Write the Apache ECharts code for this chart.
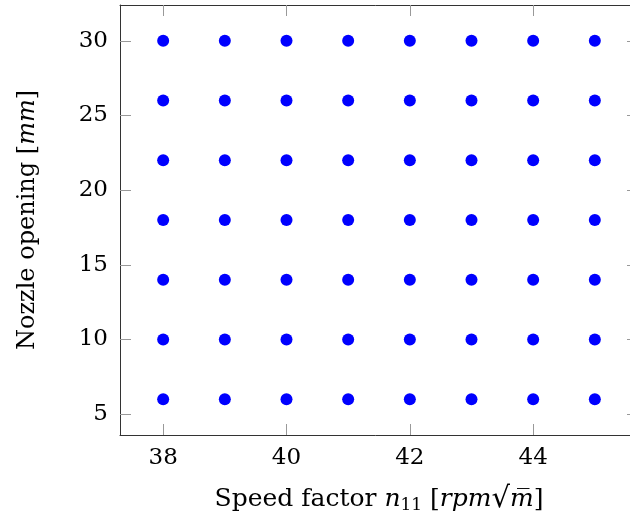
<!DOCTYPE html>
<html>
<head>
<meta charset="utf-8">
<script src="https://cdn.jsdelivr.net/npm/echarts@6/dist/echarts.min.js"></script>
<style>
  html, body { margin: 0; padding: 0; background: #fff; }
  #chart { width: 630px; height: 523px; }
</style>
</head>
<body>
<div id="chart"></div>
<script>
// speed factor values (x) and nozzle openings (y) of the measured grid
const speedFactors = [38, 39, 40, 41, 42, 43, 44, 45];
const nozzleOpenings = [6, 10, 14, 18, 22, 26, 30];
const xTicks = [38, 40, 42, 44];
const yTicks = [5, 10, 15, 20, 25, 30];

const points = [];
for (const y of nozzleOpenings) {
  for (const x of speedFactors) points.push([x, y]);
}

const font = '"DejaVu Serif", "Liberation Serif", serif';
const lineCol = '#333';
const tickCol = '#999';

function frameAxis(pos, ticks, showLabels, extra) {
  return Object.assign({
    type: 'value',
    position: pos,
    axisLine: { show: true, onZero: false, lineStyle: { color: lineCol, width: 1 } },
    axisTick: { show: true, inside: true, length: 11, customValues: ticks, lineStyle: { color: tickCol, width: 1 } },
    axisLabel: { show: showLabels, customValues: ticks, color: '#000', fontFamily: font, fontSize: 23, margin: 12 },
    splitLine: { show: false }
  }, extra);
}

const chart = echarts.init(document.getElementById('chart'));
chart.setOption({
  animation: false,
  grid: { left: 120, top: 5, width: 518, height: 430, outerBoundsMode: 'none', containLabel: false },
  xAxis: [
    frameAxis('bottom', xTicks, true, {
      min: 37.3, max: 45.7,
      name: '{t|Speed factor }{i|n}{s|11}{t| [}{i|rpm}{r|√}{i|m\u0305}{t|]}',
      nameLocation: 'middle',
      nameGap: 50,
      nameTextStyle: {
        rich: {
          t: { fontFamily: font, fontSize: 25, color: '#000' },
          i: { fontFamily: font, fontSize: 25, fontStyle: 'italic', color: '#000' },
          r: { fontFamily: font, fontSize: 29, color: '#000' },
          s: { fontFamily: font, fontSize: 17, color: '#000', verticalAlign: 'bottom', padding: [10, 0, 0, 0] }
        }
      }
    }),
    frameAxis('top', xTicks, false, { min: 37.3, max: 45.7 })
  ],
  yAxis: [
    frameAxis('left', yTicks, true, {
      min: 3.6, max: 32.4,
      name: '{t|Nozzle opening [}{i|mm}{t|]}',
      nameLocation: 'middle',
      nameGap: 80,
      nameTextStyle: {
        rich: {
          t: { fontFamily: font, fontSize: 24, color: '#000' },
          i: { fontFamily: font, fontSize: 24, fontStyle: 'italic', color: '#000' }
        }
      }
    }),
    frameAxis('right', yTicks, false, { min: 3.6, max: 32.4 })
  ],
  series: [{
    type: 'scatter',
    data: points,
    symbol: 'circle',
    symbolSize: 12,
    itemStyle: { color: '#0000ff', opacity: 1 }
  }]
});
</script>
</body>
</html>
